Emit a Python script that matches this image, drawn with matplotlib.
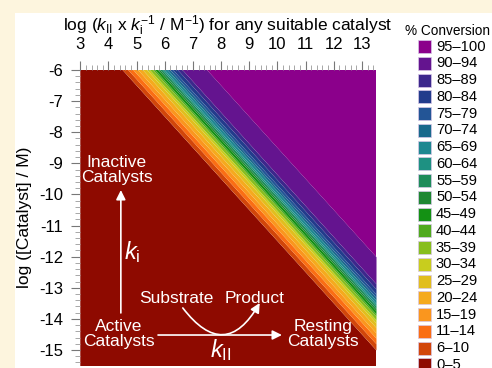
import numpy as np
import matplotlib
matplotlib.use("Agg")
import matplotlib.pyplot as plt
from matplotlib.patches import Rectangle
from matplotlib.ticker import MultipleLocator

plt.rcParams["font.family"] = ["Liberation Sans", "DejaVu Sans"]
plt.rcParams["mathtext.fontset"] = "custom"
plt.rcParams["mathtext.rm"] = "Liberation Sans"
plt.rcParams["mathtext.it"] = "Liberation Sans:italic"
plt.rcParams["axes.unicode_minus"] = False

# --- Dades ---
# conversion classes (from the legend, top to bottom)
labels = ["95–100", "90–94", "85–89", "80–84", "75–79", "70–74", "65–69",
          "60–64", "55–59", "50–54", "45–49", "40–44", "35–39", "30–34",
          "25–29", "20–24", "15–19", "11–14", "6–10", "0–5"]
colors = ["#8b008b", "#64148f", "#3c288c", "#233c8c", "#235596", "#19698c",
          "#1e8791", "#1e9182", "#1e8c5a", "#1e8732", "#149114", "#50aa1e",
          "#87be1e", "#c8cd1e", "#e1be1e", "#f5aa1e", "#fa961e", "#fa6e14",
          "#d2460a", "#8e0a00"]
# class boundaries in log(kII/ki x [Cat]) = x + y, from 0-5|6-10 up to 90-94|95-100
boundaries = [-1.50, -1.30, -1.12, -0.95, -0.78, -0.63, -0.53, -0.41, -0.34,
              -0.24, -0.17, -0.08, -0.01, 0.10, 0.19, 0.30, 0.46, 0.63, 1.50]

x_ticks = list(range(3, 14))
y_ticks = list(range(-15, -5))
x_lim = (3, 13.5)
y_lim = (-15.5, -6)

W, H = 492, 368
fig = plt.figure(figsize=(W / 100, H / 100), dpi=100)
fig.patch.set_facecolor("#fdf5de")
fig.add_artist(Rectangle((15 / W, 0), 1, 1 - 13 / H, transform=fig.transFigure,
                         facecolor="white", edgecolor="none", zorder=-5))

ax = fig.add_axes([80.3 / W, 1 - 365.5 / H, (376 - 80.3) / W, (365.5 - 70) / H])

# bandes diagonals: x + y entre dos limits
xs = np.array(x_lim)
edges = [-40] + boundaries + [40]
band_colors = colors[::-1]  # de 0-5 a 95-100
for i in range(len(band_colors)):
    ax.fill_between(xs, edges[i] - xs, edges[i + 1] - xs,
                    color=band_colors[i], lw=0, zorder=1)

ax.set_xlim(*x_lim)
ax.set_ylim(*y_lim)

ax.xaxis.tick_top()
ax.xaxis.set_label_position("top")
ax.set_xticks(x_ticks)
ax.set_yticks(y_ticks)
ax.xaxis.set_minor_locator(MultipleLocator(0.2))
ax.yaxis.set_minor_locator(MultipleLocator(0.2))
ax.tick_params(which="major", direction="out", length=6.5, width=0.8,
               color="#777777", labelsize=12, pad=6)
ax.tick_params(axis="x", which="major", pad=6.5)
ax.tick_params(which="minor", direction="out", length=3.5, width=0.6,
               color="#999999")
for s in ax.spines.values():
    s.set_visible(False)

ax.set_xlabel(r"log ($k_{\rm II}$ x $k_{\rm i}^{-1}$ / M$^{-1}$) for any suitable catalyst",
              fontsize=12.5, labelpad=4.5)
ax.set_ylabel("log ([Catalyst] / M)", fontsize=12.5, labelpad=5)

# --- Esquema ---
tk = dict(color="white", fontsize=12.5, ha="center", va="center",
          linespacing=0.95, zorder=5)
ax.text(4.30, -9.22, "Inactive\nCatalysts", **tk)
ax.text(4.37, -14.49, "Active\nCatalysts", **tk)
ax.text(11.61, -14.49, "Resting\nCatalysts", **tk)
ax.text(6.40, -13.36, "Substrate", **tk)
ax.text(9.19, -13.36, "Product", **tk)
ax.text(4.83, -11.85, r"$k_{\rm i}$", color="white", fontsize=17,
        ha="center", va="center", zorder=5)
ax.text(7.99, -15.0, r"$k_{\rm II}$", color="white", fontsize=17,
        ha="center", va="center", zorder=5)

arr = dict(arrowstyle="-|>", color="white", lw=1.2, mutation_scale=14,
           shrinkA=0, shrinkB=0)
ax.annotate("", xy=(4.44, -9.86), xytext=(4.44, -13.81), arrowprops=arr, zorder=5)
ax.annotate("", xy=(10.16, -14.52), xytext=(5.76, -14.52), arrowprops=arr, zorder=5)
ax.annotate("", xy=(9.37, -13.49), xytext=(6.64, -13.65),
            arrowprops=dict(arr, connectionstyle="arc3,rad=0.75"), zorder=5)

# --- Llegenda ---
fig.text(405 / W, 1 - 31 / H, "% Conversion", fontsize=9.8, va="center", ha="left")
for i, (lab, col) in enumerate(zip(labels, colors)):
    yc = 46.7 + i * 16.75
    fig.add_artist(Rectangle((418 / W, 1 - (yc + 6.5) / H), 13 / W, 13 / H,
                             transform=fig.transFigure, facecolor=col,
                             edgecolor="#d8c8e8", lw=0.5))
    fig.text(436 / W, 1 - yc / H, lab, fontsize=10.6, va="center", ha="left")

fig.savefig("out.png", dpi=100, facecolor=fig.get_facecolor())
